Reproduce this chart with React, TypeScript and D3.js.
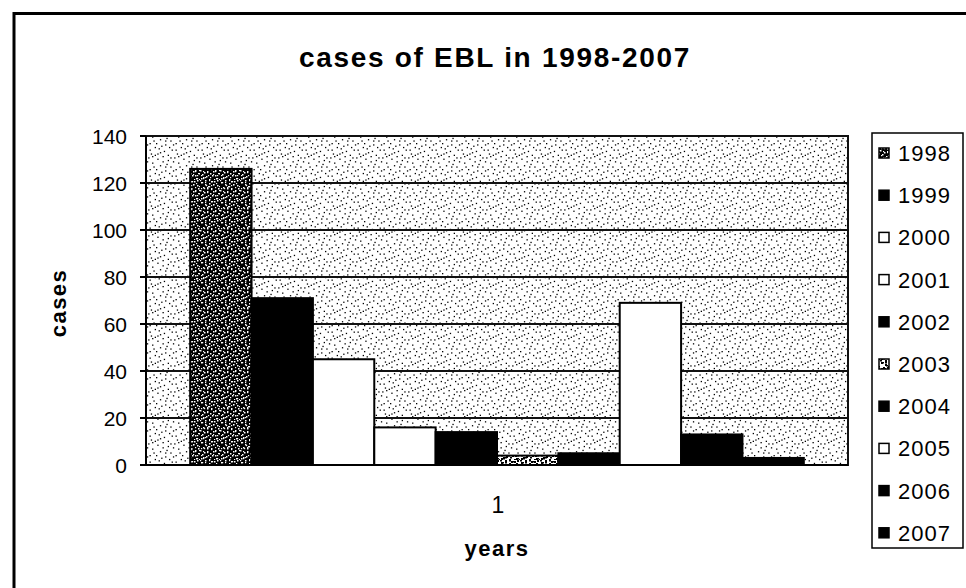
import React from 'react';
import * as d3 from 'd3';

const categories = ['1'];
const years = ['1998', '1999', '2000', '2001', '2002', '2003', '2004', '2005', '2006', '2007'];
const cases = [126, 71, 45, 16, 14, 4, 5, 69, 13, 3];
const yTicks = [0, 20, 40, 60, 80, 100, 120, 140];
const fills = ['url(#darkStipple)', '#000', '#fff', '#fff', '#000', 'url(#midStipple)', '#000', '#fff', '#000', '#000'];

// decorative speck layout for the stipple texture (not data)
const specks: [number, number][] = [
  [1, 2], [5, 0], [9, 3], [14, 1], [17, 5], [3, 7], [11, 8], [7, 11], [15, 10], [19, 13],
  [2, 14], [6, 16], [12, 15], [16, 18], [9, 19], [0, 10], [13, 4], [4, 12], [18, 8], [10, 13],
  [8, 6], [1, 18], [15, 15], [5, 4], [11, 1], [17, 0], [3, 17], [13, 11], [7, 8], [19, 19],
];

const W = 966;
const H = 588;
const plot = { left: 146, right: 848, top: 136, bottom: 465 };

export default function App() {
  const x = d3.scaleBand<string>().domain(categories).range([plot.left, plot.right]).padding(0);
  const xs = d3
    .scaleBand<string>()
    .domain(years)
    .range([x('1')!, x('1')! + x.bandwidth()])
    .paddingInner(0)
    .paddingOuter(0.72);
  const y = d3.scaleLinear().domain([0, 140]).range([plot.bottom, plot.top]);
  const font = '"Liberation Sans", Arial, sans-serif';

  return (
    <svg width={W} height={H} style={{ position: 'absolute', left: 0, top: 0, background: '#fff' }} fontFamily={font}>
      <defs>
        <pattern id="stipple" width={26} height={26} patternUnits="userSpaceOnUse">
          <rect width={26} height={26} fill="#fff" />
          {specks.map(([a, b], i) => (
            <rect key={i} x={a * 1.3} y={b * 1.3} width={1.3} height={1.3} fill="#000" />
          ))}
        </pattern>
        <pattern id="darkStipple" width={20} height={20} patternUnits="userSpaceOnUse">
          <rect width={20} height={20} fill="#000" />
          {specks.map(([a, b], i) => (
            <rect key={i} x={a} y={b} width={1.5} height={1.5} fill="#fff" />
          ))}
          {specks.map(([a, b], i) => (
            <rect key={'b' + i} x={(a + 10) % 20} y={(b + 7) % 20} width={1.2} height={1.2} fill="#fff" />
          ))}
        </pattern>
        <pattern id="midStipple" width={20} height={20} patternUnits="userSpaceOnUse">
          <rect width={20} height={20} fill="#fff" />
          {specks.map(([a, b], i) => (
            <rect key={i} x={a} y={b} width={2} height={2} fill="#000" />
          ))}
          {specks.map(([a, b], i) => (
            <rect key={'b' + i} x={(a + 10) % 20} y={(b + 7) % 20} width={2} height={1.5} fill="#000" />
          ))}
        </pattern>
      </defs>

      {/* outer frame */}
      <line x1={14} y1={13.5} x2={W} y2={13.5} stroke="#000" strokeWidth={3} />
      <line x1={14} y1={12} x2={14} y2={H} stroke="#000" strokeWidth={3} />

      {/* title */}
      <text x={495} y={67} textAnchor="middle" fontSize={28} fontWeight="bold" letterSpacing={1.7}>
        cases of EBL in 1998-2007
      </text>

      {/* plot area */}
      <rect
        x={plot.left}
        y={plot.top}
        width={plot.right - plot.left}
        height={plot.bottom - plot.top}
        fill="url(#stipple)"
      />
      {yTicks.slice(1, -1).map((t) => (
        <line key={t} x1={plot.left} x2={plot.right} y1={y(t)} y2={y(t)} stroke="#111" strokeWidth={2} />
      ))}
      <rect
        x={plot.left}
        y={plot.top}
        width={plot.right - plot.left}
        height={plot.bottom - plot.top}
        fill="none"
        stroke="#111"
        strokeWidth={2}
      />

      {/* bars */}
      {years.map((yr, i) => (
        <rect
          key={yr}
          x={xs(yr)}
          y={y(cases[i])}
          width={xs.bandwidth()}
          height={y(0) - y(cases[i])}
          fill={fills[i]}
          stroke="#000"
          strokeWidth={2}
        />
      ))}

      {/* y axis */}
      <line x1={plot.left} x2={plot.left} y1={plot.top} y2={plot.bottom} stroke="#000" strokeWidth={2} />
      <line x1={plot.left - 6} x2={plot.right} y1={plot.bottom} y2={plot.bottom} stroke="#000" strokeWidth={2} />
      {yTicks.map((t) => (
        <g key={t}>
          <line x1={plot.left - 6} x2={plot.left} y1={y(t)} y2={y(t)} stroke="#000" strokeWidth={2} />
          <text x={127} y={y(t) + 7.5} textAnchor="end" fontSize={21}>
            {t}
          </text>
        </g>
      ))}

      {/* x axis labels */}
      {categories.map((c) => (
        <text key={c} x={x(c)! + x.bandwidth() / 2 + 1} y={513} textAnchor="middle" fontSize={23}>
          {c}
        </text>
      ))}
      <text x={497} y={556} textAnchor="middle" fontSize={22} fontWeight="bold" letterSpacing={1.5}>
        years
      </text>
      <text
        transform="translate(66,303) rotate(-90)"
        textAnchor="middle"
        fontSize={22}
        fontWeight="bold"
        letterSpacing={1.5}
      >
        cases
      </text>

      {/* legend */}
      <rect x={872} y={133} width={91} height={415} fill="#fff" stroke="#000" strokeWidth={1.5} />
      {years.map((yr, i) => {
        const cy = 153 + i * 42.2;
        return (
          <g key={yr}>
            <rect x={879} y={cy - 5} width={10} height={10} fill={fills[i]} stroke="#000" strokeWidth={1.5} />
            <text x={898} y={cy + 8} fontSize={22} letterSpacing={1}>
              {yr}
            </text>
          </g>
        );
      })}
    </svg>
  );
}
